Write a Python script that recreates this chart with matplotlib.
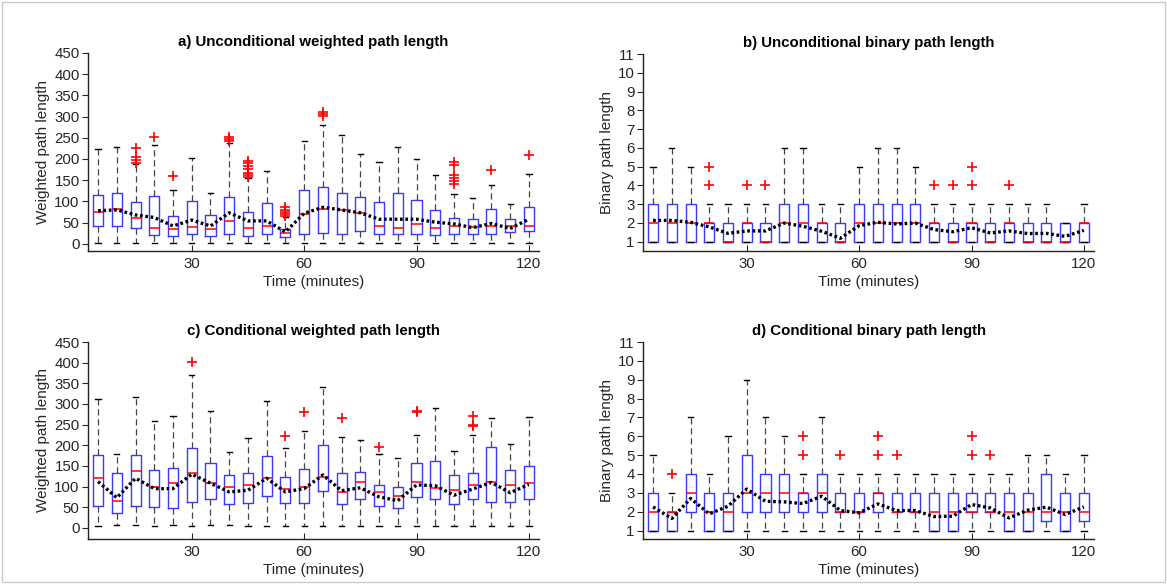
import matplotlib
matplotlib.use("Agg")
import matplotlib.pyplot as plt
from matplotlib.patches import Rectangle
import numpy as np

plt.rcParams['font.family'] = ['Liberation Sans', 'DejaVu Sans']

times = [5, 10, 15, 20, 25, 30, 35, 40, 45, 50, 55, 60,
         65, 70, 75, 80, 85, 90, 95, 100, 105, 110, 115, 120]

# ---- a) Unconditional weighted path length ----
a_low = [2, 3, 3, 2, 3, 2, 2, 2, 2, 2, 2, 2, 2, 2, 2, 2, 2, 2, 2, 2, 2, 2, 2, 2]
a_q1 = [43, 43, 38, 20, 19, 22, 19, 24, 19, 22, 17, 24, 26, 23, 31, 22, 23, 24, 20, 23, 23, 24, 28, 30]
a_med = [75, 83, 62, 38, 34, 40, 34, 54, 38, 43, 26, 71, 83, 79, 73, 42, 38, 47, 38, 42, 40, 41, 43, 43]
a_q3 = [115, 120, 98, 113, 66, 101, 67, 111, 76, 96, 35, 126, 134, 119, 111, 99, 120, 104, 80, 62, 59, 82, 59, 86]
a_high = [224, 229, 188, 233, 128, 203, 119, 238, 155, 172, 64, 242, 281, 257, 212, 193, 229, 200, 163, 118, 108, 139, 95, 164]
a_out = [[], [], [190, 197, 204, 226], [253], [160], [], [], [242, 247, 252],
         [158, 163, 168, 176, 183, 190, 195], [], [66, 70, 75, 80, 86], [],
         [301, 306, 310], [], [], [], [], [], [], [142, 148, 154, 162, 187, 192],
         [], [174], [], [210]]
a_mean = [78, 80, 68, 62, 42, 56, 42, 73, 54, 54, 28, 72, 86, 80, 73, 58, 58, 58, 51, 47, 38, 48, 36, 58]

# ---- b) Unconditional binary path length ----
b_low = [1] * 24
b_q1 = [1] * 24
b_med = [2, 2, 2, 2, 1, 2, 1, 2, 2, 2, 1, 2, 2, 2, 2, 2, 1, 2, 1, 2, 1, 1, 1, 2]
b_q3 = [3, 3, 3, 2, 2, 2, 2, 3, 3, 2, 2, 3, 3, 3, 3, 2, 2, 2, 2, 2, 2, 2, 2, 2]
b_high = [5, 6, 5, 3, 3, 3, 3, 6, 6, 3, 3, 5, 6, 6, 5, 3, 3, 3, 3, 3, 3, 3, 2, 3]
b_out = [[], [], [], [4, 5], [], [4], [4], [], [], [], [], [],
         [], [], [], [4], [4], [4, 5], [], [4], [], [], [], []]
b_mean = [2.13, 2.13, 2.03, 1.78, 1.44, 1.57, 1.57, 1.99, 1.82, 1.55, 1.18, 1.85,
          2.03, 1.94, 1.99, 1.64, 1.53, 1.74, 1.46, 1.57, 1.43, 1.44, 1.28, 1.6]

# ---- c) Conditional weighted path length ----
c_low = [4, 6, 6, 4, 6, 4, 6, 6, 4, 4, 4, 4, 4, 4, 4, 4, 4, 4, 4, 4, 4, 4, 4, 4]
c_q1 = [53, 35, 53, 51, 49, 62, 71, 57, 59, 78, 61, 61, 89, 57, 71, 53, 49, 74, 71, 57, 69, 63, 62, 69]
c_med = [121, 66, 138, 99, 108, 132, 108, 100, 103, 121, 93, 99, 122, 88, 110, 88, 76, 112, 96, 91, 103, 112, 103, 108]
c_q3 = [176, 132, 177, 139, 146, 193, 156, 127, 134, 174, 122, 142, 200, 132, 135, 104, 100, 156, 163, 127, 133, 196, 140, 150]
c_high = [312, 180, 316, 259, 270, 370, 282, 183, 217, 306, 193, 234, 341, 219, 212, 180, 170, 224, 291, 185, 226, 265, 202, 268]
c_out = [[], [], [], [], [], [402], [], [], [], [], [222], [281], [], [266], [],
         [196], [], [280, 283], [], [], [247, 250, 270], [], [], []]
c_mean = [112, 73, 120, 95, 95, 130, 108, 87, 91, 120, 87, 95, 128, 90, 97, 75, 66,
          104, 102, 79, 94, 110, 85, 105]

# ---- d) Conditional binary path length ----
d_low = [1] * 24
d_q1 = [1, 1, 2, 1, 1, 2, 2, 2, 2, 2, 2, 2, 2, 2, 2, 1, 1, 2, 2, 1, 1, 1.5, 1, 1.5]
d_med = [2, 2, 3, 2, 2, 3, 3, 3, 3, 3, 2, 2, 3, 2, 2, 2, 2, 2, 2, 2, 2, 2, 2, 2]
d_q3 = [3, 2, 4, 3, 3, 5, 4, 4, 3, 4, 3, 3, 3, 3, 3, 3, 3, 3, 3, 3, 3, 4, 3, 3]
d_high = [5, 3, 7, 4, 6, 9, 7, 6, 4, 7, 4, 4, 4, 4, 4, 4, 4, 4, 4, 4, 5, 5, 4, 5]
d_out = [[], [4], [], [], [], [], [], [], [5, 6], [], [5], [], [5, 6], [5], [],
         [], [], [5, 6], [5], [], [], [], [], []]
d_mean = [2.25, 1.64, 2.7, 1.88, 2.29, 3.2, 2.55, 2.52, 2.43, 2.82, 2.06, 1.94,
          2.41, 2.06, 2.06, 1.74, 1.76, 2.38, 2.2, 1.67, 2.08, 2.24, 1.85, 2.25]

titles = ["a) Unconditional weighted path length",
          "b) Unconditional binary path length",
          "c) Conditional weighted path length",
          "d) Conditional binary path length"]
ylabels = ["Weighted path length", "Binary path length",
           "Weighted path length", "Binary path length"]
xticks = [30, 60, 90, 120]

W, H = 1167, 584
fig = plt.figure(figsize=(W / 100, H / 100), dpi=100)

def frac(x0, y0, x1, y1):
    return [x0 / W, 1 - y1 / H, (x1 - x0) / W, (y1 - y0) / H]

rects = [frac(88, 53, 539, 251), frac(643, 54, 1094, 251),
         frac(88, 342, 539, 539), frac(643, 342, 1094, 539)]

panels = [
    (a_low, a_q1, a_med, a_q3, a_high, a_out, a_mean, (-17, 450), np.arange(0, 451, 50)),
    (b_low, b_q1, b_med, b_q3, b_high, b_out, b_mean, (0.5, 11), np.arange(1, 12, 1)),
    (c_low, c_q1, c_med, c_q3, c_high, c_out, c_mean, (-27, 450), np.arange(0, 451, 50)),
    (d_low, d_q1, d_med, d_q3, d_high, d_out, d_mean, (0.55, 11), np.arange(1, 12, 1)),
]

for i, (lo, q1, med, q3, hi, out, mean, ylim, yt) in enumerate(panels):
    ax = fig.add_axes(rects[i])
    stats = []
    for k in range(len(times)):
        stats.append(dict(whislo=lo[k], q1=q1[k], med=med[k], q3=q3[k],
                          whishi=hi[k], fliers=out[k]))
    ax.bxp(stats, positions=times, widths=2.7, capwidths=1.4,
           showfliers=True, manage_ticks=False,
           boxprops=dict(color='#3a3aff', linewidth=1.0),
           whiskerprops=dict(color='#444444', linewidth=0.9, linestyle=(0, (5, 3))),
           capprops=dict(color='black', linewidth=1.0),
           medianprops=dict(color='red', linewidth=1.1),
           flierprops=dict(marker='+', markeredgecolor='red', markersize=7,
                           markeredgewidth=1.2, linestyle='none'))
    ax.plot(times, mean, color='black', linestyle=(0, (0.8, 0.8)), linewidth=2.4,
            zorder=5)
    ax.set_xlim(2.3, 122.7)
    ax.set_ylim(*ylim)
    ax.set_yticks(yt)
    ax.set_xticks(xticks)
    ax.spines['top'].set_visible(False)
    ax.spines['right'].set_visible(False)
    for s in ('left', 'bottom'):
        ax.spines[s].set_linewidth(1.0)
        ax.spines[s].set_color('#222222')
    ax.tick_params(axis='y', direction='out', length=4, labelsize=10.8,
                   colors='#262626', pad=2)
    ax.tick_params(axis='x', direction='in', length=4, labelsize=10.8,
                   colors='#262626', pad=4)
    ax.set_title(titles[i], fontsize=10.8, fontweight='bold', pad=5)
    ax.set_ylabel(ylabels[i], fontsize=11, labelpad=3, color='#262626')
    ax.set_xlabel("Time (minutes)", fontsize=11, labelpad=3, color='#262626')

fig.patches.append(Rectangle((0.002, 0.003), 0.996, 0.994, transform=fig.transFigure,
                             fill=False, edgecolor='#cccccc', linewidth=1.0))

fig.savefig("out.png", dpi=100)
